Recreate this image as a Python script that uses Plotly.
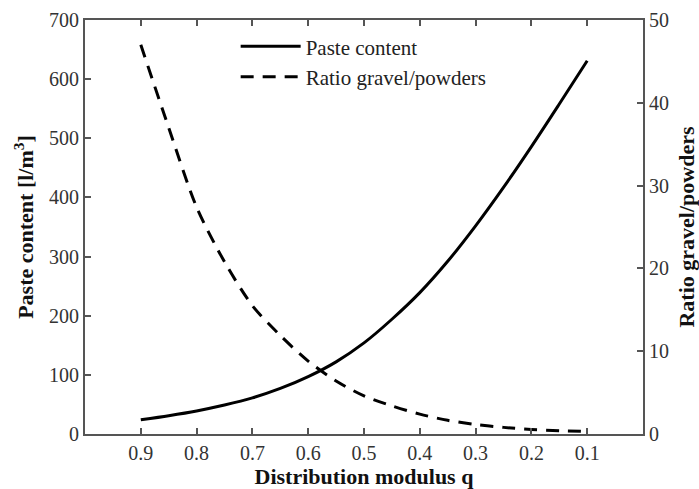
import plotly.graph_objects as go

q = [0.90, 0.85, 0.80, 0.75, 0.70, 0.65, 0.60, 0.55, 0.50, 0.45, 0.40, 0.35, 0.30, 0.25, 0.20, 0.15, 0.10]
paste_content = [24, 31, 39, 49, 61, 77, 97, 122, 154, 194, 239, 292, 352, 417, 486, 558, 631]
ratio_gravel_powders = [47.0, 37.0, 27.4, 20.8, 15.5, 11.9, 8.8, 6.4, 4.6, 3.4, 2.4, 1.65, 1.15, 0.8, 0.55, 0.4, 0.3]

x_ticks = [0.9, 0.8, 0.7, 0.6, 0.5, 0.4, 0.3, 0.2, 0.1]
x_tick_labels = ["0.9", "0.8", "0.7", "0.6", "0.5", "0.4", "0.3", "0.2", "0.1"]
y1_ticks = [0, 100, 200, 300, 400, 500, 600, 700]
y2_ticks = [0, 10, 20, 30, 40, 50]

font_family = "Liberation Serif, Times New Roman, serif"
axis_col = "#555555"
tick_col = "#333333"
title_col = "#111111"

fig = go.Figure()
fig.add_trace(go.Scatter(x=q, y=paste_content, mode="lines", name="Paste content",
                         line=dict(color="black", width=3, shape="spline", smoothing=0.8), yaxis="y"))
fig.add_trace(go.Scatter(x=q, y=ratio_gravel_powders, mode="lines", name="Ratio gravel/powders",
                         line=dict(color="black", width=3, dash="13px,9px", shape="spline", smoothing=0.8), yaxis="y2"))

fig.update_layout(
    width=699, height=489,
    margin=dict(l=85, r=56, t=20, b=55),
    paper_bgcolor="white", plot_bgcolor="white",
    font=dict(family=font_family, size=20, color=tick_col),
    showlegend=True,
    legend=dict(x=0.27, y=0.985, xanchor="left", yanchor="top",
                bgcolor="rgba(0,0,0,0)", font=dict(size=21, color="#222222"),
                itemwidth=60, tracegroupgap=0),
    xaxis=dict(range=[1.0, 0.0], tickvals=x_ticks, ticktext=x_tick_labels,
               showline=True, linecolor=axis_col, linewidth=2, mirror="ticks",
               ticks="inside", ticklen=6, tickcolor=axis_col, tickwidth=1.5,
               showgrid=False, zeroline=False, tickfont=dict(size=20), automargin=False,
               title=dict(text="<b>Distribution modulus q</b>", font=dict(size=22, color=title_col))),
    yaxis=dict(range=[0, 700], tickvals=y1_ticks,
               showline=True, linecolor=axis_col, linewidth=2,
               ticks="inside", ticklen=6, tickcolor=axis_col, tickwidth=1.5,
               showgrid=False, zeroline=False, tickfont=dict(size=20), automargin=False,
               title=dict(text="<b>Paste content [l/m<sup>3</sup>]</b>", font=dict(size=22, color=title_col), standoff=9)),
    yaxis2=dict(range=[0, 50], tickvals=y2_ticks, overlaying="y", side="right",
                showline=True, linecolor=axis_col, linewidth=2,
                ticks="inside", ticklen=6, tickcolor=axis_col, tickwidth=1.5,
                showgrid=False, zeroline=False, tickfont=dict(size=20), automargin=False,
                title=dict(text="<b>Ratio gravel/powders</b>", font=dict(size=22, color=title_col))),
)

fig.write_html("out.html")
